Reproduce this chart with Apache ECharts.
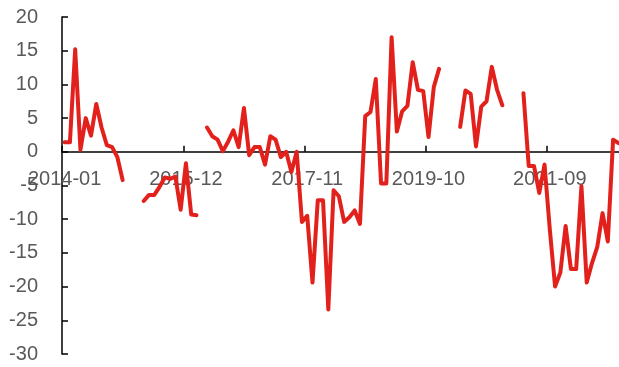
<!DOCTYPE html>
<html>
<head>
<meta charset="utf-8">
<script src="https://cdn.jsdelivr.net/npm/echarts@6/dist/echarts.min.js"></script>
<style>
  html, body { margin: 0; padding: 0; background: #ffffff; }
  #chart { width: 619px; height: 367px; }
</style>
</head>
<body>
<div id="chart"></div>
<script>
// Monthly periods, 2014-01 through 2022-10
const startYear = 2014;
const monthCount = 106;
const months = [];
for (let i = 0; i < monthCount; i++) {
  const y = startYear + Math.floor(i / 12);
  const m = (i % 12) + 1;
  months.push(y + '-' + (m < 10 ? '0' + m : '' + m));
}

// Monthly values (%); null marks months without data
const values = [
  1.4, 1.4, 15.2, 0.3, 5.0, 2.4, 7.1, 3.6, 1.0, 0.7, -0.8, -4.2,
  null, null, null, -7.3, -6.4, -6.4, -5.2, -3.8, -4.0, -3.7, -8.6, -1.7,
  -9.3, -9.4, null, 3.6, 2.3, 1.8, 0.1, 1.5, 3.2, 0.7, 6.5, -0.5,
  0.7, 0.7, -1.9, 2.3, 1.8, -0.8, 0.0, -3.0, 0.0, -10.4, -9.5, -19.4,
  -7.2, -7.2, -23.4, -5.7, -6.6, -10.4, -9.7, -8.7, -10.7, 5.3, 5.9, 10.8,
  -4.7, -4.7, 17.0, 3.0, 6.0, 6.8, 13.3, 9.2, 9.0, 2.2, 9.6, 12.3,
  null, null, null, 3.7, 9.1, 8.6, 0.8, 6.7, 7.5, 12.6, 9.2, 6.9,
  null, null, null, 8.7, -2.1, -2.1, -6.1, -1.9, -11.5, -20.0, -17.9, -11.0,
  -17.4, -17.4, -5.1, -19.4, -16.5, -14.1, -9.1, -13.3, 1.8, 1.3
];

// Value axis range
const yMin = -30;
const yMax = 20;
const yStep = 5;

// Every 23rd month gets a label
const labelEvery = 23;

// Plot box (the last month runs slightly past the right edge)
const H = 367;
const gridTop = 17, gridBottom = 13, gridLeft = 62, gridWidth = 559;
const plotH = H - gridTop - gridBottom;
// Shift the category axis up from the bottom edge to the zero line
const zeroShift = plotH * (0 - yMin) / (yMax - yMin);

const chart = echarts.init(document.getElementById('chart'), null, { renderer: 'canvas' });
chart.setOption({
  animation: false,
  backgroundColor: '#ffffff',
  grid: {
    left: gridLeft, width: gridWidth, top: gridTop, bottom: gridBottom,
    containLabel: false, outerBoundsMode: 'none'
  },
  xAxis: {
    type: 'category',
    data: months,
    boundaryGap: true,
    offset: -zeroShift,
    axisLine: { onZero: false, lineStyle: { color: '#000000', width: 1.5 } },
    axisTick: { show: true, inside: true, length: 6, interval: labelEvery - 1, lineStyle: { color: '#000000', width: 1.5 } },
    axisLabel: {
      interval: labelEvery - 1,
      margin: 18,
      color: '#595959',
      fontSize: 20,
      fontFamily: 'Liberation Sans, Arial, sans-serif',
      showMinLabel: true,
      hideOverlap: false
    },
    splitLine: { show: false }
  },
  yAxis: {
    type: 'value',
    min: yMin,
    max: yMax,
    interval: yStep,
    axisLine: { show: true, lineStyle: { color: '#000000', width: 1.5 } },
    axisTick: { show: true, inside: true, length: 6, lineStyle: { color: '#000000', width: 1.5 } },
    axisLabel: {
      margin: 24,
      color: '#595959',
      fontSize: 20,
      fontFamily: 'Liberation Sans, Arial, sans-serif'
    },
    splitLine: { show: false }
  },
  series: [{
    type: 'line',
    data: values,
    showSymbol: false,
    symbol: 'none',
    connectNulls: false,
    lineStyle: { color: '#E3211C', width: 4, join: 'round', cap: 'round' }
  }]
});
</script>
</body>
</html>
